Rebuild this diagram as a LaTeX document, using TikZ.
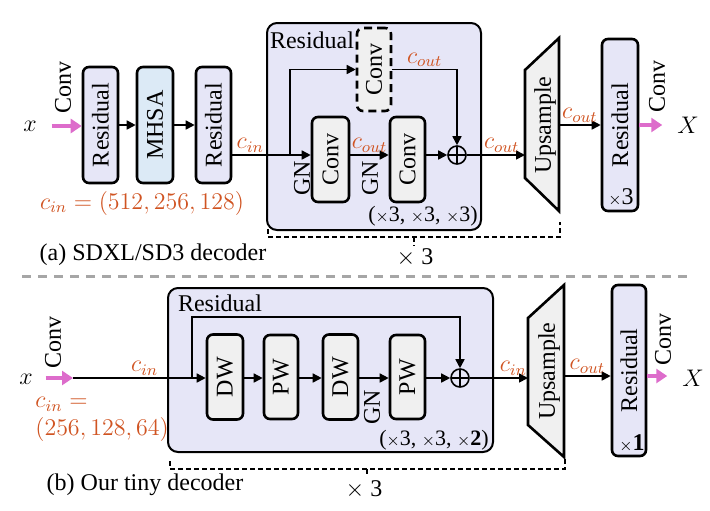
\documentclass[tikz,border=0pt]{standalone}
\usepackage{fontspec}
\setmainfont{Liberation Serif}
\usetikzlibrary{arrows.meta}
\usetikzlibrary{positioning}
\usetikzlibrary{calc}

\definecolor{resfill}{RGB}{230,230,247}
\definecolor{attnfill}{RGB}{220,234,246}
\definecolor{convfill}{RGB}{240,240,240}
\definecolor{chorange}{RGB}{208,84,34}
\definecolor{inpink}{RGB}{221,108,203}

\tikzset{
  blk/.style={draw=black,line width=1.3pt,rounded corners=3pt,inner sep=0pt},
  resblk/.style={blk,fill=resfill},
  convblk/.style={blk,fill=convfill},
  outer/.style={draw=black,line width=1pt,rounded corners=5pt,fill=resfill,inner sep=0pt},
  trap/.style={draw=black,line width=1.3pt,fill=convfill,line join=miter},
  arr/.style={line width=0.8pt,-{Triangle[length=4.5pt,width=4.5pt]}},
  pinkarr/.style={draw=inpink,line width=2pt,-{Triangle[length=5.5pt,width=7pt]}},
  chlab/.style={text=chorange,inner sep=1pt},
  sumnode/.style={circle,draw=black,line width=0.8pt,minimum size=9pt,inner sep=0pt,
    path picture={\draw[line width=0.8pt] (path picture bounding box.north) -- (path picture bounding box.south)
      (path picture bounding box.west) -- (path picture bounding box.east);}},
  brk/.style={line width=0.7pt,dash pattern=on 2.5pt off 1.5pt},
  sepline/.style={draw=gray!70,line width=1.5pt,dash pattern=on 4.5pt off 3.5pt}
}

\begin{document}
\begin{tikzpicture}[x=0.5pt,y=-0.5pt,font=\fontsize{12}{14}\selectfont]
\useasboundingbox (0,0) rectangle (710,510);

% (a) SDXL/SD3
\node[outer,minimum width=107pt,minimum height=103.5pt] (rbA) at (374,126.5) {};
\node (rbAlab) at (312,40) {Residual};

\node (xa) at (30,126) {$x$};
\node[rotate=90] (convA1) at (63,87) {Conv};
\node[resblk,minimum width=17.5pt,minimum height=58pt] (resA1) at (100.5,125) {\rotatebox{90}{Residual}};
\node[blk,fill=attnfill,minimum width=18pt,minimum height=58pt] (mhsa) at (155,125) {\rotatebox{90}{MHSA}};
\node[resblk,minimum width=17.5pt,minimum height=58pt] (resA2) at (213.5,125) {\rotatebox{90}{Residual}};
\draw[pinkarr,shorten <=4pt] (xa.east) -- (xa.east -| resA1.west);
\draw[arr] (resA1) -- (mhsa);
\draw[arr] (mhsa) -- (resA2);
\node[chlab] (cinA) at (142,203) {$c_{in}=(512,256,128)$};
\node (capA) at (153,255) {(a) SDXL/SD3 decoder};

\coordinate (lA) at (0,155);
\coordinate (splitA) at (290,155);
\node[convblk,dash pattern=on 4pt off 2.5pt,minimum width=17pt,minimum height=41.5pt] (convD) at (374,69.5) {\rotatebox{90}{Conv}};
\node[convblk,minimum width=18.5pt,minimum height=42.5pt] (convA) at (330.5,159.5) {\rotatebox{90}{Conv}};
\node[convblk,minimum width=17.5pt,minimum height=42.5pt] (convB) at (407.5,159.5) {\rotatebox{90}{Conv}};
\node[sumnode] (sumA) at (457,155) {};
\node[rotate=90] (gnA1) at (302,178) {GN};
\node[rotate=90] (gnA2) at (370,178) {GN};

\draw[arr] (resA2.east |- lA) -- node[chlab,above,pos=0.23] {$c_{in}$} (convA.west |- lA);
\draw[arr] (splitA) |- (convD.west);
\draw[arr] (convD.east) -| node[chlab,above,pos=0.25] {$c_{out}$} (sumA.north);
\draw[arr] (convA.east |- lA) -- node[chlab,above] {$c_{out}$} (convB.west |- lA);
\draw[arr] (convB.east |- lA) -- (sumA.west);
\node[font=\fontsize{11}{13}\selectfont] (repA) at (423,216) {($\scriptstyle\times$3, $\scriptstyle\times$3, $\scriptstyle\times$3)};

\coordinate (upA1) at (525,70);
\coordinate (upA2) at (559,38);
\coordinate (upA3) at (559,211);
\coordinate (upA4) at (525,178);
\draw[trap] (upA1) -- (upA2) -- (upA3) -- (upA4) -- cycle;
\node (upA) at (545,125) {\rotatebox{90}{Upsample}};
\coordinate (upAin) at (525,155);
\coordinate (upAout) at (559,125);
\draw[arr] (sumA.east) -- node[chlab,above,pos=0.6] {$c_{out}$} (upAin);

\node[resblk,minimum width=18pt,minimum height=86pt] (resA3) at (620,125) {\rotatebox{90}{Residual}};
\node (repA3) at (621,197) {$\scriptstyle\times$3};
\draw[arr] (upAout) -- node[chlab,above] {$c_{out}$} (resA3.west);
\node (XA) at (688,125) {$X$};
\draw[pinkarr,shorten >=4pt] (resA3.east) -- (XA.west);
\node[rotate=90] (convA2) at (657,86) {Conv};

\draw[brk] (268,229) -- (268,237) -- (560,237) -- (560,222);
\draw[brk] (414,237) -- (414,246);
\node (timesA) at (415,258) {$\times$ 3};

\draw[sepline] (22,276) -- (693,276);

% (b) tiny decoder
\node[outer,minimum width=162.5pt,minimum height=82pt] (rbB) at (330.5,370) {};
\node (rbBlab) at (220,303) {Residual};

\node (xb) at (26,379) {$x$};
\node[rotate=90] (convB1) at (53,342) {Conv};
\coordinate (lB) at (0,378);
\coordinate (inB) at (73,378);
\coordinate (splitB) at (192,378);
\coordinate (skipB) at (192,317);
\draw[pinkarr,shorten <=3pt] (xb.east |- lB) -- (inB);

\node[convblk,minimum width=18pt,minimum height=42.5pt] (dw1) at (225,377) {\rotatebox{90}{DW}};
\node[convblk,minimum width=17pt,minimum height=42pt] (pw1) at (281,377) {\rotatebox{90}{PW}};
\node[convblk,minimum width=17.5pt,minimum height=42.5pt] (dw2) at (340.5,377) {\rotatebox{90}{DW}};
\node[convblk,minimum width=17.5pt,minimum height=42pt] (pw2) at (407.5,377) {\rotatebox{90}{PW}};
\node[sumnode] (sumB) at (460,378) {};
\node[rotate=90] (gnB) at (372,407) {GN};

\draw[arr] (inB) -- node[chlab,above,pos=0.54] {$c_{in}$} (dw1.west |- lB);
\draw[arr] (splitB) -- (skipB) -| (sumB.north);
\draw[arr] (dw1.east |- lB) -- (pw1.west |- lB);
\draw[arr] (pw1.east |- lB) -- (dw2.west |- lB);
\draw[arr] (dw2.east |- lB) -- (pw2.west |- lB);
\draw[arr] (pw2.east |- lB) -- (sumB.west);
\node[font=\fontsize{11}{13}\selectfont] (repB) at (434,440) {($\scriptstyle\times$3, $\scriptstyle\times$3, $\scriptstyle\times$\textbf{2})};

\node[chlab,align=left,anchor=north west] (cinB) at (33,395) {$c_{in}=$\\[0pt]$(256,128,64)$};
\node (capB) at (145,485) {(b) Our tiny decoder};

\coordinate (upB1) at (528,318);
\coordinate (upB2) at (564,285);
\coordinate (upB3) at (564,457);
\coordinate (upB4) at (528,425);
\draw[trap] (upB1) -- (upB2) -- (upB3) -- (upB4) -- cycle;
\node (upB) at (549,371) {\rotatebox{90}{Upsample}};
\coordinate (upBin) at (528,378);
\coordinate (upBout) at (564,376);
\draw[arr] (sumB.east) -- node[chlab,above,pos=0.75] {$c_{in}$} (upBin);

\node[resblk,minimum width=17pt,minimum height=85.5pt] (resB4) at (629,370.5) {\rotatebox{90}{Residual}};
\node (repB4) at (632,443) {$\scriptstyle\times$\textbf{1}};
\draw[arr] (upBout) -- node[chlab,above] {$c_{out}$} (resB4.west |- upBout);
\node (XB) at (693,378) {$X$};
\draw[pinkarr,shorten >=4pt] (resB4.east |- upBout) -- (XB.west |- upBout);
\node[rotate=90] (convB2) at (663,339) {Conv};

\draw[brk] (170,461) -- (170,469) -- (565,469) -- (565,458);
\draw[brk] (367,469) -- (367,476);
\node (timesB) at (364,490) {$\times$ 3};
\end{tikzpicture}
\end{document}
